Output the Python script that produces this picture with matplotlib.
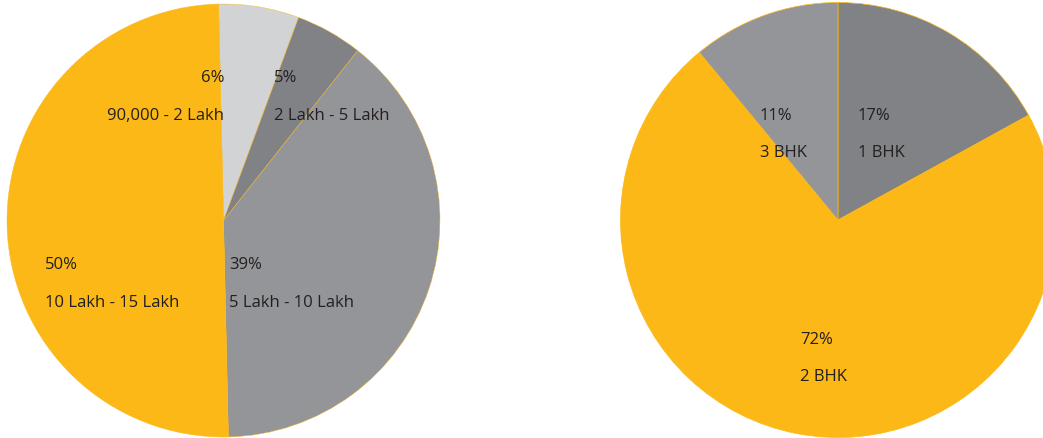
import matplotlib
matplotlib.use("Agg")
import matplotlib.pyplot as plt

# Income bands
income_labels = ["90,000 - 2 Lakh", "2 Lakh - 5 Lakh", "5 Lakh - 10 Lakh", "10 Lakh - 15 Lakh"]
income_share = [6, 5, 39, 50]

# Flat configurations
bhk_labels = ["1 BHK", "2 BHK", "3 BHK"]
bhk_share = [17, 72, 11]

YELLOW = "#FBB817"
MID_GREY = "#939598"
DARK_GREY = "#808285"
LIGHT_GREY = "#D1D3D4"
TEXT = "#231F20"

income_colors = [LIGHT_GREY, DARK_GREY, MID_GREY, YELLOW]
bhk_colors = [DARK_GREY, YELLOW, MID_GREY]

W, H = 1043, 439
fig = plt.figure(figsize=(W / 100, H / 100), dpi=100)
ax = fig.add_axes([0, 0, 1, 1])

ax.pie(income_share, colors=income_colors, startangle=91.3, counterclock=False,
       center=(223.5, H - 221.5), radius=216.5,
       wedgeprops=dict(edgecolor=YELLOW, linewidth=0.3), frame=True)
ax.pie(bhk_share, colors=bhk_colors, startangle=90, counterclock=False,
       center=(838, H - 221), radius=217.5,
       wedgeprops=dict(edgecolor=YELLOW, linewidth=0.5), frame=True)

ax.set_xlim(0, W)
ax.set_ylim(0, H)
ax.set_aspect("equal")
ax.axis("off")

font = dict(family=["Open Sans", "DejaVu Sans"], fontsize=12, color=TEXT, va="center")

# (x, y of percentage line, alignment) for each label block, top-down pixel rows
income_pos = [(224, 78, "right"), (274, 78, "left"), (229, 265, "left"), (45, 265, "left")]
bhk_pos = [(858, 116, "left"), (800, 340, "left"), (760, 116, "left")]

for (x, y, ha), lab, v in zip(income_pos, income_labels, income_share):
    ax.text(x, H - y, f"{v}%", ha=ha, **font)
    ax.text(x, H - y - 38, lab, ha=ha, **font)
for (x, y, ha), lab, v in zip(bhk_pos, bhk_labels, bhk_share):
    ax.text(x, H - y, f"{v}%", ha=ha, **font)
    ax.text(x, H - y - 37, lab, ha=ha, **font)

fig.savefig("out.png", dpi=100)
